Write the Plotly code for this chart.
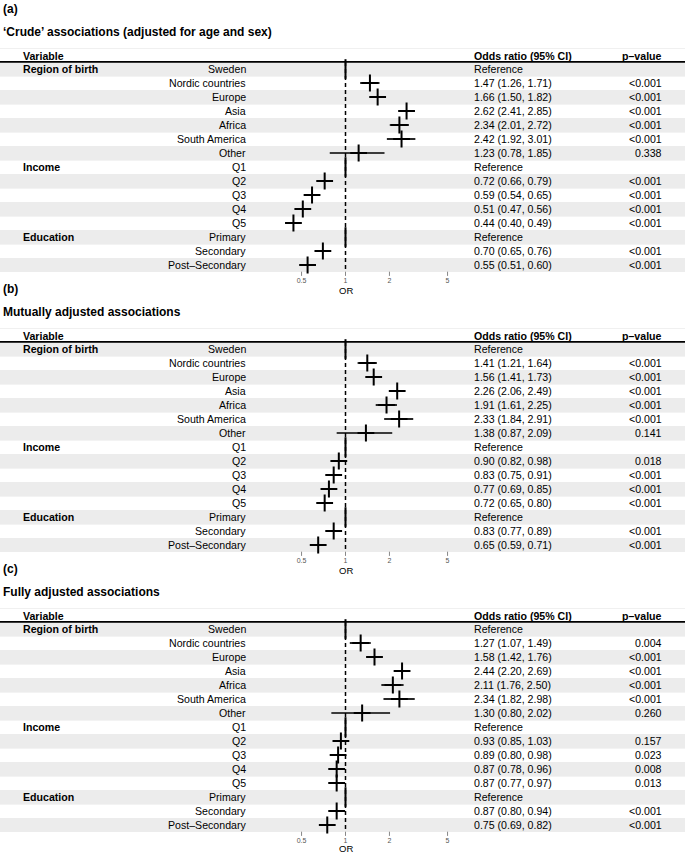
import plotly.graph_objects as go

# ---------------- data ----------------
panel_tags = ["(a)", "(b)", "(c)"]
panel_titles = [
    "\u2018Crude\u2019 associations (adjusted for age and sex)",
    "Mutually adjusted associations",
    "Fully adjusted associations",
]
groups = ["Region of birth", "", "", "", "", "", "",
          "Income", "", "", "", "",
          "Education", "", ""]
levels = ["Sweden", "Nordic countries", "Europe", "Asia", "Africa", "South America", "Other",
          "Q1", "Q2", "Q3", "Q4", "Q5",
          "Primary", "Secondary", "Post\u2013Secondary"]

est_a = [None, 1.47, 1.66, 2.62, 2.34, 2.42, 1.23, None, 0.72, 0.59, 0.51, 0.44, None, 0.70, 0.55]
lo_a  = [None, 1.26, 1.50, 2.41, 2.01, 1.92, 0.78, None, 0.66, 0.54, 0.47, 0.40, None, 0.65, 0.51]
hi_a  = [None, 1.71, 1.82, 2.85, 2.72, 3.01, 1.85, None, 0.79, 0.65, 0.56, 0.49, None, 0.76, 0.60]
p_a   = ["", "<0.001", "<0.001", "<0.001", "<0.001", "<0.001", "0.338", "", "<0.001", "<0.001", "<0.001", "<0.001", "", "<0.001", "<0.001"]

est_b = [None, 1.41, 1.56, 2.26, 1.91, 2.33, 1.38, None, 0.90, 0.83, 0.77, 0.72, None, 0.83, 0.65]
lo_b  = [None, 1.21, 1.41, 2.06, 1.61, 1.84, 0.87, None, 0.82, 0.75, 0.69, 0.65, None, 0.77, 0.59]
hi_b  = [None, 1.64, 1.73, 2.49, 2.25, 2.91, 2.09, None, 0.98, 0.91, 0.85, 0.80, None, 0.89, 0.71]
p_b   = ["", "<0.001", "<0.001", "<0.001", "<0.001", "<0.001", "0.141", "", "0.018", "<0.001", "<0.001", "<0.001", "", "<0.001", "<0.001"]

est_c = [None, 1.27, 1.58, 2.44, 2.11, 2.34, 1.30, None, 0.93, 0.89, 0.87, 0.87, None, 0.87, 0.75]
lo_c  = [None, 1.07, 1.42, 2.20, 1.76, 1.82, 0.80, None, 0.85, 0.80, 0.78, 0.77, None, 0.80, 0.69]
hi_c  = [None, 1.49, 1.76, 2.69, 2.50, 2.98, 2.02, None, 1.03, 0.98, 0.96, 0.97, None, 0.94, 0.82]
p_c   = ["", "0.004", "<0.001", "<0.001", "<0.001", "<0.001", "0.260", "", "0.157", "0.023", "0.008", "0.013", "", "<0.001", "<0.001"]

tick_vals = [0.5, 1, 2, 5]
tick_text = ["0.5", "1", "2", "5"]
axis_title = "OR"

panels = [(est_a, lo_a, hi_a, p_a), (est_b, lo_b, hi_b, p_b), (est_c, lo_c, hi_c, p_c)]

# ---------------- layout constants (pixels) ----------------
W, H = 685, 854
FONT = "Liberation Sans, Arial, Helvetica, sans-serif"
PANEL_STEP = 280.0
ROW_H = 14.0
ROW0 = 69.0
X_ONE = 345.5          # pixel of OR = 1
PX_PER_DEC = 146.0
x_range = [-X_ONE / PX_PER_DEC, (W - X_ONE) / PX_PER_DEC]

fig = go.Figure()
shapes = []
annotations = []

def px(x):
    return x / W

axis_names = ["x", "x2", "x3"]
for pi, (est, lo, hi, pv) in enumerate(panels):
    off = pi * PANEL_STEP
    n = len(levels)
    top = ROW0 - ROW_H / 2 + off
    bottom = top + n * ROW_H
    xa = axis_names[pi]

    # row bands
    for i in range(n):
        y0 = top + i * ROW_H
        if i % 2 == 0:
            shapes.append(dict(type="rect", xref="paper", yref="y", x0=0, x1=1, y0=y0, y1=y0 + ROW_H,
                               fillcolor="#ECECEC", line=dict(width=0), layer="below"))
        else:
            shapes.append(dict(type="line", xref="paper", yref="y", x0=0, x1=1, y0=y0 + 0.5, y1=y0 + 0.5,
                               line=dict(color="#F3F3F3", width=1), layer="below"))
    # header faint line and thick rule
    shapes.append(dict(type="line", xref="paper", yref="y", x0=0, x1=1, y0=48.5 + off, y1=48.5 + off,
                       line=dict(color="#F0F0F0", width=1), layer="below"))
    shapes.append(dict(type="line", xref="paper", yref="y", x0=0, x1=1, y0=top - 0.2, y1=top - 0.2,
                       line=dict(color="black", width=1.8)))

    # tick marks (drawn as markers on the axis scale)
    fig.add_trace(go.Scatter(x=tick_vals, y=[bottom + 1.8] * len(tick_vals), mode="markers",
                             xaxis=xa, yaxis="y",
                             marker=dict(symbol="line-ns", size=3, line=dict(color="#888888", width=1)),
                             hoverinfo="skip", showlegend=False))

    # dashed reference line
    fig.add_trace(go.Scatter(x=[1, 1], y=[top, bottom], mode="lines", xaxis=xa, yaxis="y",
                             line=dict(color="black", width=1.5, dash="4px,3px"),
                             hoverinfo="skip", showlegend=False))

    ys = [ROW0 + i * ROW_H + off for i in range(n)]
    # reference rows: solid vertical mark at 1
    ref_y = [ys[i] for i in range(n) if est[i] is None]
    fig.add_trace(go.Scatter(x=[1] * len(ref_y), y=ref_y, mode="markers", xaxis=xa, yaxis="y",
                             marker=dict(symbol="line-ns", size=14, line=dict(color="black", width=2)),
                             hoverinfo="skip", showlegend=False))
    # CI lines
    cx, cy = [], []
    for i in range(n):
        if est[i] is not None:
            cx += [lo[i], hi[i], None]
            cy += [ys[i], ys[i], None]
    fig.add_trace(go.Scatter(x=cx, y=cy, mode="lines", xaxis=xa, yaxis="y",
                             line=dict(color="black", width=1.7),
                             hoverinfo="skip", showlegend=False))
    # point estimates
    px_est = [est[i] for i in range(n) if est[i] is not None]
    py_est = [ys[i] for i in range(n) if est[i] is not None]
    fig.add_trace(go.Scatter(x=px_est, y=py_est, mode="markers", xaxis=xa, yaxis="y",
                             marker=dict(symbol="cross-thin", size=12, line=dict(color="black", width=2)),
                             hoverinfo="skip", showlegend=False))

    # texts
    def ann(x, y, text, anchor, size=10.6, bold=False, color="black"):
        annotations.append(dict(xref="paper", yref="y", x=px(x), y=y, text=f"<b>{text}</b>" if bold else text,
                                xanchor=anchor, yanchor="middle", showarrow=False,
                                font=dict(family=FONT, size=size, color=color)))

    ann(1, 8.5 + off, panel_tags[pi], "left", size=12, bold=True)
    ann(1, 31.5 + off, panel_titles[pi], "left", size=12, bold=True)
    ann(21, 55.5 + off, "Variable", "left", bold=True)
    ann(472, 55.5 + off, "Odds ratio (95% CI)", "left", bold=True)
    ann(664, 55.5 + off, "p\u2013value", "right", bold=True)
    for i in range(n):
        if groups[i]:
            ann(21, ys[i], groups[i], "left", bold=True)
        ann(248, ys[i], levels[i], "right")
        if est[i] is None:
            ann(472, ys[i], "Reference", "left")
        else:
            ann(472, ys[i], f"{est[i]:.2f} ({lo[i]:.2f}, {hi[i]:.2f})", "left")
        if pv[i]:
            ann(664, ys[i], pv[i], "right")
    ann(X_ONE, min(290.0 + off, H - 5.2), axis_title, "center", size=9.5)

    # axis (labels only; tick marks drawn above)
    ax = dict(type="log", range=x_range, domain=[0, 1], anchor="free",
              position=1 - bottom / H, tickvals=tick_vals, ticktext=tick_text,
              ticks="outside", ticklen=1.5, tickcolor="rgba(0,0,0,0)",
              tickfont=dict(family=FONT, size=7, color="#555555"),
              showgrid=False, zeroline=False, showline=False, fixedrange=True)
    if pi > 0:
        ax["overlaying"] = "x"
    fig.layout["xaxis" if pi == 0 else f"xaxis{pi+1}"] = ax

fig.update_layout(
    width=W, height=H, autosize=False,
    margin=dict(l=0, r=0, t=0, b=0, pad=0),
    paper_bgcolor="white", plot_bgcolor="rgba(0,0,0,0)",
    yaxis=dict(range=[H, 0], domain=[0, 1], visible=False, fixedrange=True),
    shapes=shapes, annotations=annotations, showlegend=False,
)
fig.write_html("out.html", config={"displayModeBar": False},
               post_script="document.body.style.margin='0px';document.body.style.overflow='hidden';")
